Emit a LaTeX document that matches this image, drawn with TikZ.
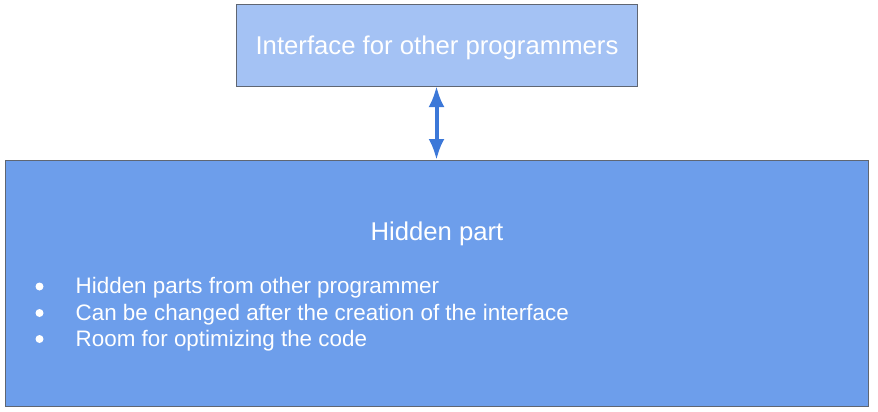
\documentclass[tikz,border=0pt]{standalone}
\usepackage{fontspec}
\setmainfont{Liberation Sans}
\usetikzlibrary{arrows.meta}
\definecolor{toplight}{HTML}{A4C2F4}
\definecolor{botblue}{HTML}{6D9EEB}
\definecolor{edgegray}{HTML}{5F6672}
\definecolor{arrowblue}{HTML}{3C78D8}
\tikzset{
  boxstyle/.style={draw=edgegray, line width=1pt, inner sep=0pt, outer sep=0pt},
  bigtext/.style={text=white, font=\fontsize{25.7}{30}\selectfont, inner sep=0pt},
  itemtext/.style={text=white, font=\fontsize{22.4}{26}\selectfont, inner sep=0pt, anchor=base west},
  bulletdot/.style={circle, fill=white, inner sep=0pt, minimum size=8pt},
  linkarrow/.style={draw=arrowblue, line width=4pt, {Latex[length=21pt,width=16pt]}-{Latex[length=21pt,width=16pt]}}
}
\begin{document}
\begin{tikzpicture}[x=1pt,y=-1pt]
\useasboundingbox (0,0) rectangle (878,412);
\node[boxstyle, fill=toplight, minimum width=401pt, minimum height=81pt] (top) at (436.5,45.5) {};
\node[boxstyle, fill=botblue, minimum width=863pt, minimum height=246pt] (bot) at (436.5,283) {};
\node[bigtext, anchor=base] (toptext) at (437,54.5) {Interface for other programmers};
\node[bigtext, anchor=base] (hidden) at (437,240) {Hidden part};
\node[bulletdot] (b1) at (39.5,286.5) {};
\node[bulletdot] (b2) at (39.5,313) {};
\node[bulletdot] (b3) at (39.5,339) {};
\node[itemtext] (i1) at (75.5,293.5) {Hidden parts from other programmer};
\node[itemtext] (i2) at (75.5,320) {Can be changed after the creation of the interface};
\node[itemtext] (i3) at (75.5,346) {Room for optimizing the code};
\draw[linkarrow] (top.south -| 436.5,0) -- (bot.north -| 436.5,0);
\end{tikzpicture}
\end{document}
